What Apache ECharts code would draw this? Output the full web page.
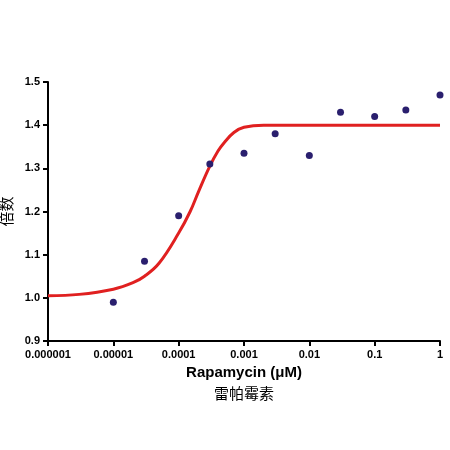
<!DOCTYPE html>
<html>
<head>
<meta charset="utf-8">
<script src="https://cdn.jsdelivr.net/npm/echarts@6/dist/echarts.min.js"></script>
<style>html,body{margin:0;padding:0;background:#fff}#chart{width:450px;height:450px}</style>
</head>
<body>
<div id="chart"></div>
<script>
// measured points (concentration uM, fold)
var pointX = [0.00001, 0.00003, 0.0001, 0.0003, 0.001, 0.003, 0.01, 0.03, 0.1, 0.3, 1];
var pointY = [0.99, 1.085, 1.19, 1.31, 1.335, 1.38, 1.33, 1.43, 1.42, 1.435, 1.47];
// fitted curve
var curveX = [0.000001, 0.000003, 0.00001, 0.00002, 0.00003, 0.00005, 0.0001, 0.00015, 0.0002, 0.0003, 0.0004, 0.0005, 0.0007, 0.001, 0.002, 0.003, 0.01, 0.1, 1];
var curveY = [1.005, 1.008, 1.02, 1.035, 1.05, 1.08, 1.15, 1.2, 1.245, 1.305, 1.34, 1.36, 1.383, 1.395, 1.4, 1.4, 1.4, 1.4, 1.4];
var xTickLabels = {'-6':'0.000001','-5':'0.00001','-4':'0.0001','-3':'0.001','-2':'0.01','-1':'0.1','0':'1'};

var myChart = echarts.init(document.getElementById('chart'));
var font = 'Liberation Sans, Arial, sans-serif';
var option = {
  animation: false,
  grid: { left: 48, right: 10, top: 82, bottom: 109, containLabel: false, outerBoundsMode: 'none' },
  xAxis: {
    type: 'log', logBase: 10, min: 0.000001, max: 1,
    name: '{a|Rapamycin (μM)}\n{b|雷帕霉素}',
    nameLocation: 'middle', nameGap: 22,
    nameTextStyle: { rich: {
      a: { fontSize: 15, fontWeight: 'bold', color: '#000', fontFamily: font, lineHeight: 20 },
      b: { fontSize: 15, color: '#000', fontFamily: 'Noto Sans CJK SC', lineHeight: 20 }
    }},
    axisLine: { lineStyle: { color: '#000', width: 2 } },
    axisTick: { lineStyle: { color: '#000', width: 2 }, length: 5 },
    axisLabel: { color: '#000', fontSize: 11, fontWeight: 'bold', fontFamily: font,
      formatter: function (v) { return xTickLabels[Math.round(Math.log10(v))]; } },
    splitLine: { show: false }
  },
  yAxis: {
    type: 'value', min: 0.9, max: 1.5, interval: 0.1,
    name: '倍数', nameLocation: 'middle', nameGap: 34,
    nameTextStyle: { fontSize: 15, color: '#000', fontFamily: 'Noto Sans CJK SC' },
    axisLine: { show: true, lineStyle: { color: '#000', width: 2 } },
    axisTick: { show: true, lineStyle: { color: '#000', width: 2 }, length: 5 },
    axisLabel: { color: '#000', fontSize: 11, fontWeight: 'bold', fontFamily: font,
      formatter: function (v) { return v.toFixed(1); } },
    splitLine: { show: false }
  },
  series: [
    { type: 'line', data: curveX.map(function (x, i) { return [x, curveY[i]]; }),
      smooth: 0.4, showSymbol: false, lineStyle: { color: '#e02020', width: 3 }, z: 2 },
    { type: 'scatter', data: pointX.map(function (x, i) { return [x, pointY[i]]; }),
      symbolSize: 7, itemStyle: { color: '#2a1f6e', opacity: 1 }, z: 3 }
  ]
};
myChart.setOption(option);
</script>
</body>
</html>
